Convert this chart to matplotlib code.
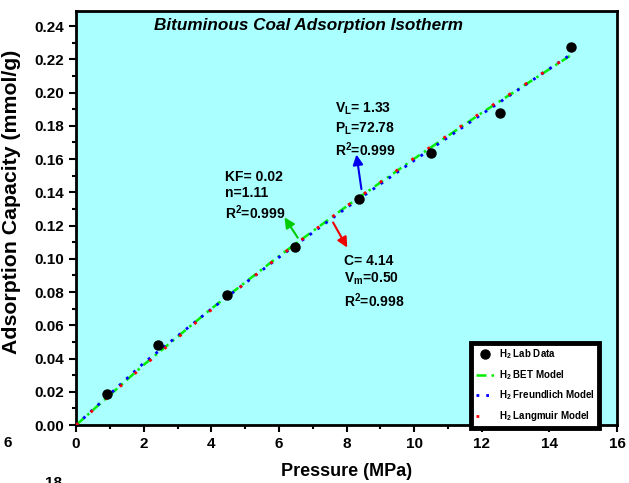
import matplotlib.pyplot as plt
from matplotlib.ticker import MultipleLocator

plt.rcParams['font.family'] = ['Liberation Sans', 'DejaVu Sans']
plt.rcParams['font.weight'] = 'bold'
plt.rcParams['mathtext.default'] = 'regular'

# measured H2 adsorption data
pressure = [0.92, 2.41, 4.46, 6.46, 8.36, 10.50, 12.53, 14.64]
capacity = [0.0186, 0.0481, 0.0782, 0.1070, 0.1360, 0.1636, 0.1880, 0.2274]

# model curves
p_model = [0.0, 2.0, 4.0, 6.0, 8.0, 10.0, 12.0, 14.6]
bet = [0.0, 0.0362, 0.0700, 0.1016, 0.1316, 0.1602, 0.1878, 0.2220]
freundlich = [0.0, 0.0373, 0.0698, 0.1009, 0.1307, 0.1592, 0.1870, 0.2225]
langmuir = [0.0, 0.0356, 0.0693, 0.1013, 0.1317, 0.1606, 0.1883, 0.2222]

fig = plt.figure(figsize=(6.29, 4.83), dpi=100)
ax = fig.add_axes([0.121, 0.12, 0.860, 0.857])
ax.set_facecolor('#aaffff')

ax.plot(p_model, bet, color='#00ee00', lw=1.8, ls=(0, (4, 2, 1, 2)), label='H$_2$ BET Model', zorder=3)
ax.plot(p_model, freundlich, color='#0000ff', lw=2, ls=(0, (1, 2.5)), label='H$_2$ Freundlich Model', zorder=4)
ax.plot(p_model, langmuir, color='#ff0000', lw=2, ls=(0, (1, 6)), label='H$_2$ Langmuir Model', zorder=5)
ax.plot(pressure, capacity, 'o', color='black', ms=6.5, ls='none', label='H$_2$ Lab Data', zorder=6)

ax.set_xlim(0, 16)
ax.set_ylim(0, 0.249)
ax.xaxis.set_major_locator(MultipleLocator(2))
ax.xaxis.set_minor_locator(MultipleLocator(1))
ax.yaxis.set_major_locator(MultipleLocator(0.02))
ax.yaxis.set_minor_locator(MultipleLocator(0.01))
ax.yaxis.set_major_formatter(plt.FormatStrFormatter('%.2f'))
ax.tick_params(which='major', direction='out', length=5, width=1.5, labelsize=11)
ax.tick_params(which='minor', direction='out', length=3, width=1.5)
for s in ax.spines.values():
    s.set_linewidth(2)

ax.set_xlabel('Pressure (MPa)', fontsize=13, fontweight='bold', labelpad=9)
ax.set_ylabel('Adsorption Capacity (mmol/g)', fontsize=15.3, fontweight='bold')
ax.yaxis.set_label_coords(-0.102, 0.539)
ax.text(6.88, 0.2405, 'Bituminous Coal Adsorption Isotherm', ha='center', va='center',
        fontsize=12.3, fontweight='bold', style='italic')

# fit annotations
arrow = dict(arrowstyle='-|>', lw=1.5, mutation_scale=15)
ax.annotate('', xy=(6.12, 0.1263), xytext=(6.6, 0.1113), arrowprops=dict(arrow, color='#00cc00'))
ax.annotate('', xy=(8.28, 0.1644), xytext=(8.45, 0.1403), arrowprops=dict(arrow, color='#0000ee'))
ax.annotate('', xy=(8.06, 0.1053), xytext=(7.56, 0.1233), arrowprops=dict(arrow, color='#ee0000'))
ax.text(4.40, 0.1534, 'KF= 0.02\nn=1.11\nR$^2$=0.999', fontsize=10, fontweight='bold',
        va='top', linespacing=1.2)
ax.text(7.65, 0.1949, 'V$_L$= 1.33\nP$_L$=72.78\nR$^2$=0.999', fontsize=10, fontweight='bold',
        va='top', linespacing=1.25)
ax.text(7.92, 0.1029, 'C= 4.14\nV$_m$=0.50\nR$^2$=0.998', fontsize=10, fontweight='bold',
        va='top', linespacing=1.25)

# legend with the data entry first
handles, labels = ax.get_legend_handles_labels()
order = [3, 0, 1, 2]
leg = ax.legend([handles[i] for i in order], [labels[i] for i in order],
                loc='lower right', bbox_to_anchor=(0.967, -0.006), frameon=True, fancybox=False,
                edgecolor='black', facecolor='white', framealpha=1,
                prop={'size': 7, 'weight': 'bold'},
                handlelength=2.0, handletextpad=0.4, borderpad=0.45, labelspacing=0.7,
                borderaxespad=0)
leg.get_frame().set_linewidth(3.5)

# leftovers of a neighbouring panel
fig.text(0.005, 0.083, '6', fontsize=11, fontweight='bold', va='center')
fig.text(0.072, 0.0, '18', fontsize=11, fontweight='bold', va='center')

fig.savefig('out.png', dpi=100)
